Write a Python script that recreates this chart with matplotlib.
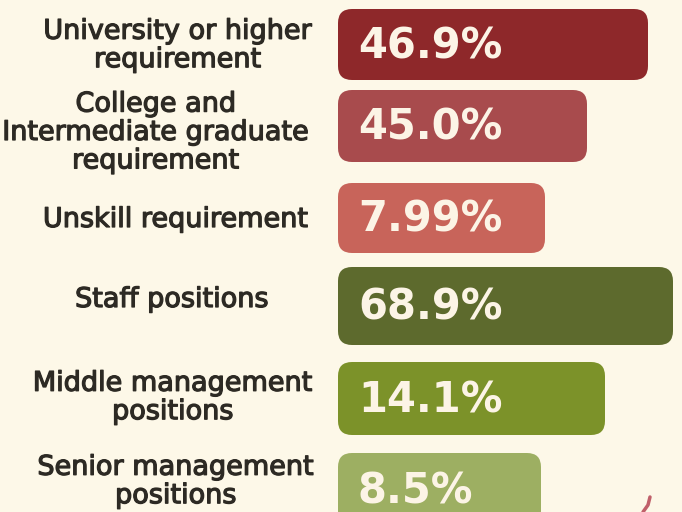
import matplotlib
matplotlib.use("Agg")
from matplotlib import pyplot as plt
from matplotlib.patches import FancyBboxPatch
import matplotlib.patheffects as pe

# data
labels = ["University or higher\nrequirement",
          "College and\nIntermediate graduate\nrequirement",
          "Unskill requirement",
          "Staff positions",
          "Middle management\npositions",
          "Senior management\npositions"]
values = ["46.9%", "45.0%", "7.99%", "68.9%", "14.1%", "8.5%"]
# drawn bar lengths (the bars are not to scale with the values)
bar_length = [310, 249, 207, 335, 267, 203]

# layout (pixel units, y grows downwards)
bar_y = [44.5, 126, 218, 306, 398.5, 489]
bar_h = [71, 72, 70, 78, 73, 72]
bar_left = 338
label_x = [178, 156, 176, 172, 173, 176]
label_y = [46, 133, 220, 300, 398, 482]
colors = ["#8e282a", "#a84b4d", "#c8645a", "#5d6a2d", "#7c9229", "#9daf62"]
bg = "#fdf8e8"

fig = plt.figure(figsize=(6.82, 5.12), dpi=100)
fig.patch.set_facecolor(bg)
ax = fig.add_axes([0, 0, 1, 1])
ax.set_facecolor(bg)
ax.set_xlim(0, 682)
ax.set_ylim(512, 0)
ax.axis("off")

bars = ax.barh(bar_y, bar_length, height=bar_h, left=bar_left, color=colors)

for bar, c, val in zip(bars, colors, values):
    x, y = bar.get_x(), bar.get_y()
    w, h = bar.get_width(), bar.get_height()
    bar.remove()
    r = 14
    patch = FancyBboxPatch((x + r, y + r), w - 2 * r, h - 2 * r,
                           boxstyle="round,pad=%d,rounding_size=%d" % (r, r),
                           fc=c, ec="none")
    ax.add_patch(patch)
    ax.text(x + 20, y + h / 2 + 2, val, color="#fcf4e6", fontsize=30,
            fontweight="bold", family="DejaVu Sans", ha="left", va="center")

for lab, lx, ly in zip(labels, label_x, label_y):
    ax.text(lx, ly, lab, color="#2d2a24", fontsize=19.5, family="DejaVu Sans",
            ha="center", va="center", multialignment="center", linespacing=1.12,
            path_effects=[pe.withStroke(linewidth=0.9, foreground="#2d2a24")])

# small decoration mark bottom right
ax.plot([643, 648, 650], [512, 505, 497], color="#c0606a", lw=2.5,
        solid_capstyle="round")

fig.savefig("out.png", dpi=100, facecolor=bg)
